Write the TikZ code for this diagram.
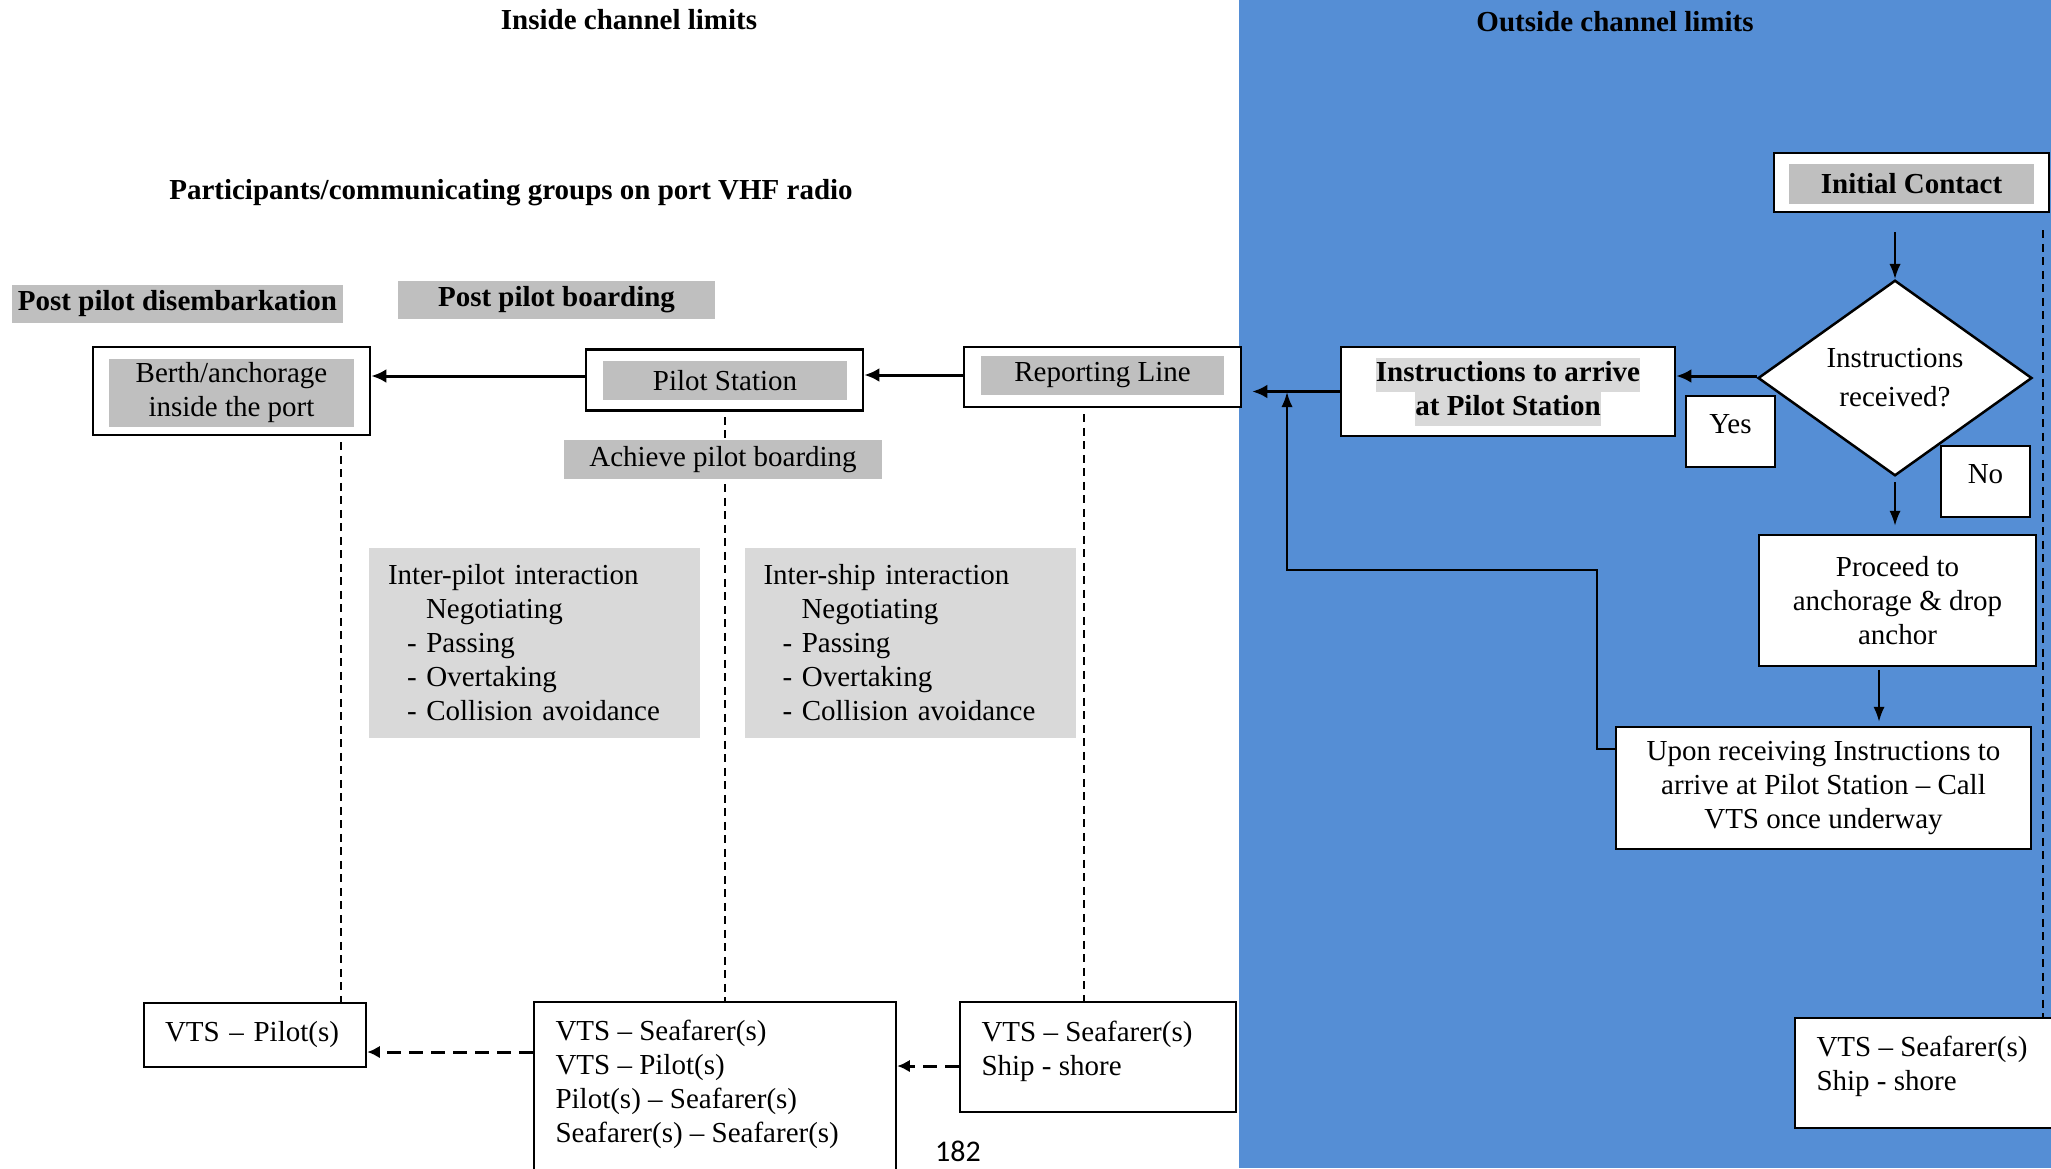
\documentclass[tikz,border=0pt]{standalone}
\usepackage{fontspec}
\setmainfont{Liberation Serif}
\newfontfamily\pagefont{Carlito}
\usetikzlibrary{arrows.meta,shapes.geometric}
\definecolor{bgblue}{HTML}{558ED5}
\definecolor{lblgray}{HTML}{BFBFBF}
\definecolor{ltgray}{HTML}{D9D9D9}
\setlength{\fboxsep}{0pt}
\newcommand{\myfs}{\fontsize{11.6}{13.6}\selectfont}
\begin{document}
\begin{tikzpicture}[x=0.4pt,y=-0.4pt,
  every node/.style={inner sep=0pt,font=\myfs},
  bold/.style={font=\myfs\bfseries},
  obox/.style n args={2}{draw=black,line width=1pt,fill=white,minimum width=#1,minimum height=#2},
  gbox/.style n args={2}{fill=lblgray,minimum width=#1,minimum height=#2},
  ibox/.style={fill=ltgray,minimum width=132.4pt,minimum height=76pt,text width=117.2pt,inner xsep=7.6pt,align=left},
  arr/.style={line width=1.2pt,-{Latex[length=6pt,width=5.5pt]}},
  thinarr/.style={line width=0.8pt,-{Latex[length=6pt,width=4.5pt]}},
  dline/.style={line width=0.8pt,dash pattern=on 3.2pt off 2.2pt},
  darr/.style={line width=1.2pt,dash pattern=on 5.6pt off 3.2pt,-{Latex[length=5pt,width=5pt]}},
  ynbox/.style={obox={35.6pt}{28.4pt},text height=8pt,text depth=6.4pt}]

\fill[white] (0,0) rectangle (2051,1168);
\fill[bgblue] (1239,0) rectangle (2051,1168);
\useasboundingbox (0,0) rectangle (2051,1168);

% titles
\node[bold] (tin) at (629,20) {Inside channel limits};
\node[bold] (tout) at (1615,22) {Outside channel limits};
\node[bold] (tpart) at (511,193) {Participants/communicating groups on port VHF radio};

% gray labels
\node[gbox={132.4pt}{15.2pt},bold] (ppd) at (177.5,303.5) {Post pilot disembarkation};
\node[gbox={126.8pt}{15.2pt},bold] (ppb) at (556.5,300) {Post pilot boarding};

% top row boxes
\node[obox={110.8pt}{35.2pt}] (berth) at (231.5,391) {};
\node[gbox={97.6pt}{27.2pt},align=center] (berthin) at (231.5,392.5) {Berth/anchorage\\inside the port};
\node[obox={110.8pt}{24.4pt}] (ps) at (724.5,380) {};
\node[gbox={97.6pt}{15.6pt}] (psin) at (725,380.5) {Pilot Station};
\node[obox={110.8pt}{24pt}] (rl) at (1102.5,377) {};
\node[gbox={97.2pt}{15.6pt}] (rlin) at (1102.5,375.5) {Reporting Line};
\node[obox={110pt}{23.6pt}] (init) at (1911.5,182.5) {};
\node[gbox={98pt}{16pt},bold] (initin) at (1911.5,183.5) {Initial Contact};

% right flowchart
\node[obox={133.6pt}{35.6pt},bold,align=center] (instr) at (1508,391.5)
  {\colorbox{ltgray}{\strut Instructions to arrive}\\\colorbox{ltgray}{\strut at Pilot Station}};
\node[diamond,draw=black,line width=1pt,fill=white,minimum width=109.6pt,minimum height=73.6pt,
  align=center,font=\fontsize{11.6}{15.6}\selectfont] (dia) at (1895,378) {Instructions\\received?};
\node[ynbox] (yes) at (1730.5,431.5) {Yes};
\node[ynbox] (no) at (1985.5,481.5) {No};
\node[obox={110.8pt}{52.4pt},align=center] (proc) at (1897.5,600.5) {Proceed to\\anchorage \& drop\\anchor};
\node[obox={166pt}{48.8pt},align=center] (upon) at (1823.5,788)
  {Upon receiving Instructions to\\arrive at Pilot Station -- Call\\VTS once underway};
\coordinate (join) at (1287,392);

% interaction boxes
\node[ibox] (ipi) at (534.5,643) {Inter-pilot interaction\\\hspace*{15.2pt}Negotiating\\\hspace*{7.6pt}- Passing\\\hspace*{7.6pt}- Overtaking\\\hspace*{7.6pt}- Collision avoidance};
\node[ibox] (isi) at (910,643) {Inter-ship interaction\\\hspace*{15.2pt}Negotiating\\\hspace*{7.6pt}- Passing\\\hspace*{7.6pt}- Overtaking\\\hspace*{7.6pt}- Collision avoidance};

% bottom boxes
\node[obox={88.8pt}{25.6pt},text width=72pt,inner xsep=8.4pt,align=left] (vtsp) at (255,1035) {VTS -- Pilot(s)};
\node[obox={144.8pt}{80pt}] (mid) at (715,1102) {};
\node[anchor=west,align=left] (midtxt) at (555,1084) {VTS -- Seafarer(s)\\VTS -- Pilot(s)\\Pilot(s) -- Seafarer(s)\\Seafarer(s) -- Seafarer(s)};
\node[obox={110.4pt}{44pt}] (rbox) at (1098,1057) {};
\node[anchor=west,align=left] (rboxtxt) at (981,1051) {VTS -- Seafarer(s)\\Ship - shore};
\node[obox={106pt}{44pt}] (brbox) at (1927.5,1073) {};
\node[anchor=west,align=left] (brboxtxt) at (1816,1066) {VTS -- Seafarer(s)\\Ship - shore};

% dashed lines
\draw[dline] ([xshift=43.8pt,yshift=-2.4pt]berth.south) -- ([xshift=43.8pt]berth.south |- vtsp.north);
\draw[dline,shorten <=2pt] (ps.south) -- (ps.south |- mid.north);
\draw[dline] ([xshift=-7.4pt,yshift=-2.4pt]rl.south) -- ([xshift=-7.4pt]rl.south |- rbox.north);
\draw[dline] ([xshift=52.4pt,yshift=-6.8pt]init.south) -- ([xshift=52.4pt]init.south |- brbox.north);

\node[gbox={127.2pt}{15.6pt}] (apb) at (723,459.5) {Achieve pilot boarding};

% arrows
\draw[arr] ([yshift=1.6pt]ps.west) -- ([yshift=1.6pt]ps.west -| berth.east);
\draw[arr] ([yshift=0.8pt]rl.west) -- ([yshift=0.8pt]rl.west -| ps.east);
\draw[arr,shorten >=4pt] (instr.west) -- (instr.west -| rl.east);
\draw[arr] ([yshift=0.8pt]dia.west) -- ([yshift=0.8pt]dia.west -| instr.east);
\draw[thinarr,shorten <=7.6pt] (dia.north |- init.south) -- (dia.north);
\draw[thinarr,shorten <=2pt,shorten >=3.2pt] (dia.south) -- (dia.south |- proc.north);
\draw[thinarr,shorten <=1pt,shorten >=1.6pt] ([xshift=-7.4pt]proc.south) -- ([xshift=-7.4pt]proc.south |- upon.north);
\draw[thinarr] ([yshift=15.6pt]upon.west) -- ++(-18,0) -- ++(0,-179) -| (join);
\draw[darr] ([yshift=-6.8pt]vtsp.east -| mid.west) -- ([yshift=-6.8pt]vtsp.east);
\draw[darr] ([yshift=-3.6pt]rbox.west) -- ([yshift=-3.6pt]rbox.west -| mid.east);

\node[font=\pagefont\fontsize{12}{14}\selectfont] (pg) at (958,1151) {182};
\end{tikzpicture}
\end{document}
